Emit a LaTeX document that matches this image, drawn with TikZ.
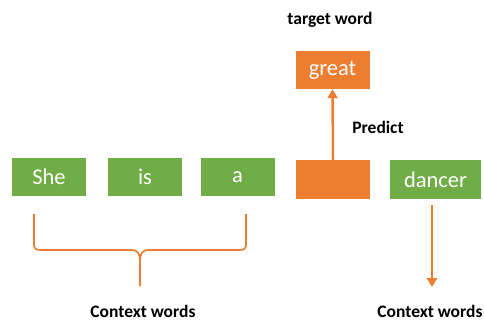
\documentclass[tikz,border=0pt]{standalone}
\usepackage{fontspec}
\setmainfont{Carlito}
\usetikzlibrary{arrows.meta}
\definecolor{wgreen}{HTML}{70AD47}
\definecolor{worange}{HTML}{ED7D31}
\tikzset{
  wordbox/.style={fill=wgreen, text=white, minimum width=74pt, minimum height=38pt,
    inner sep=0pt, font=\fontsize{22.5}{26}\selectfont},
  targetbox/.style={wordbox, fill=worange},
  label/.style={font=\bfseries\fontsize{17.5}{20}\selectfont, text=black, inner sep=0pt},
  arr/.style={draw=worange, line width=2.5pt, -{Triangle[width=10pt,length=9pt]}},
  bracepath/.style={draw=worange, line width=1.7pt}
}
\begin{document}
\begin{tikzpicture}[x=1pt, y=-1pt]
\useasboundingbox (0,0) rectangle (484,321);
\fill[white] (0,0) rectangle (484,321);

% context and target words
\node[wordbox] (she) at (49,177) {She};
\node[wordbox] (is) at (145,177) {is};
\node[wordbox] (a) at (237.5,177) {a};
\node[targetbox, minimum height=39pt] (blank) at (333,179.5) {};
\node[wordbox, minimum width=91pt, minimum height=39pt] (dancer) at (435.5,179.5) {dancer};
\node[targetbox] (great) at (332.5,70) {great};

% labels
\node[label] (target) at (330,20) {target word};
\node[label] (predict) at (378,127) {Predict};
\node[label] (ctxl) at (143,311) {Context words};
\node[label] (ctxr) at (430,311) {Context words};

% prediction arrow
\draw[arr] (blank.north) -- (great.south);

% brace under the left context words
\draw[bracepath] (34,214) -- (34,244) .. controls (34,249) and (36,250) .. (41,250)
  -- (131,250) .. controls (138,250) and (140,253) .. (140,262) -- (140,286);
\draw[bracepath] (246,214) -- (246,244) .. controls (246,249) and (244,250) .. (239,250)
  -- (149,250) .. controls (142,250) and (140,253) .. (140,262);

% arrow under the right context word
\coordinate (dstart) at (432,205);
\coordinate (dend) at (432,287);
\draw[arr] (dstart) -- (dend);
\end{tikzpicture}
\end{document}
